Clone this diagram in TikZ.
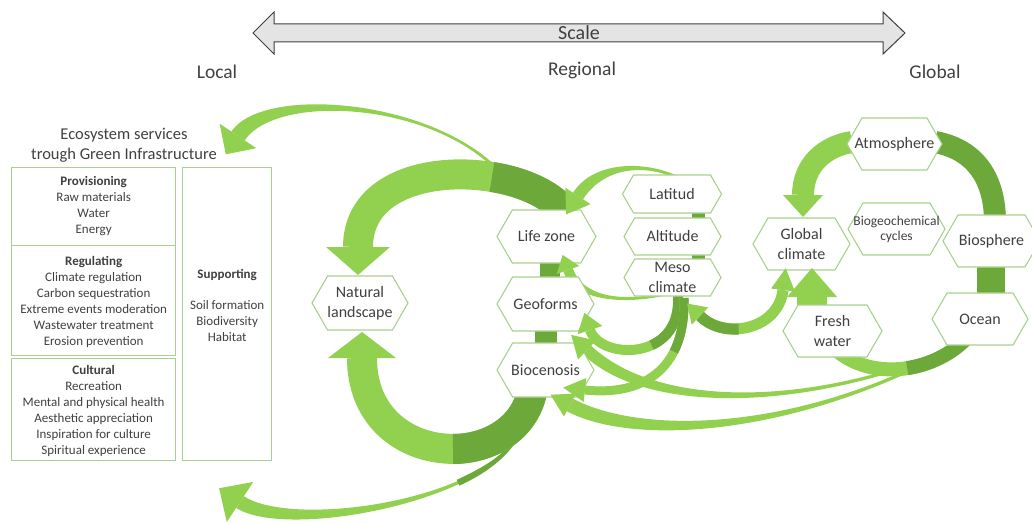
\documentclass[tikz,border=0pt]{standalone}
\usepackage{fontspec}
\setmainfont{Carlito}
\usetikzlibrary{calc,shapes.symbols}

\definecolor{gl}{RGB}{146,208,80}
\definecolor{gd}{RGB}{108,168,58}
\definecolor{hexb}{RGB}{169,209,142}
\definecolor{txt}{RGB}{64,64,64}
\definecolor{scalefill}{RGB}{228,228,228}

% tapered ribbon between P0 and P3 (cubic with controls P1,P2), half-widths at start / end
\newcommand\band[7]{%
  \fill[#1] ($#2!#6!90:#3$) .. controls ($#3!#6!-90:#2$) and ($#4!#7!90:#5$) .. ($#5!#7!-90:#4$)
    -- ($#5!#7!90:#4$) .. controls ($#4!#7!-90:#5$) and ($#3!#6!90:#2$) .. ($#2!#6!-90:#3$) -- cycle;}
% ribbon of constant width
\newcommand\sband[6]{%
  \draw[#1, line width=#6] #2 .. controls #3 and #4 .. #5;}
% triangular arrow head: colour, point behind the base, base centre, half-width, length
\newcommand\ahead[5]{%
  \fill[#1] ($#3!#4!90:#2$) -- ($#3!#5!180:#2$) -- ($#3!#4!-90:#2$) -- cycle;}
% hexagon with its text
\newcommand\hex[5]{%
  \node[hexa, minimum width=#3, minimum height=#4] (#1) at (#2) {};
  \node[hextext] at (#1.center) {#5};}

\begin{document}
\begin{tikzpicture}[x=1pt,y=-1pt,
  hexa/.style={signal, signal to=west and east, signal pointer angle=120,
    draw=hexb, line width=1.1pt, fill=white, inner sep=0pt},
  hextext/.style={text=txt, font=\fontsize{16}{20}\selectfont, align=center, inner sep=0pt},
  svcbox/.style={draw=hexb, line width=1.3pt, anchor=north west, inner sep=0pt},
  svctext/.style={text=txt, font=\fontsize{13}{16}\selectfont, align=center, anchor=north, inner sep=0pt},
  scalelbl/.style={text=txt, font=\fontsize{19.5}{22}\selectfont, inner sep=0pt}]
\useasboundingbox (0,0) rectangle (1032,524);

% scale bar
\draw[draw=txt, fill=scalefill, line width=1pt] (253,33) -- (274,12) -- (274,24) -- (883,24)
  -- (883,12) -- (905,33) -- (883,54) -- (883,42) -- (274,42) -- (274,54) -- cycle;
\node[text=txt, font=\fontsize{20}{24}\selectfont] (scale) at (579,33) {Scale};
\node[scalelbl] (local) at (217,72) {Local};
\node[scalelbl] (regional) at (582,70) {Regional};
\node[scalelbl] (globallbl) at (935,72) {Global};

% ecosystem services panel
\node[text=txt, font=\fontsize{16.5}{19.5}\selectfont, align=center, anchor=north, inner sep=0pt]
  (estitle) at (124,128) {Ecosystem services\\trough Green Infrastructure};
\node[svcbox, minimum width=164pt, minimum height=78pt] (prov) at (11,166.5) {};
\node[svcbox, minimum width=164pt, minimum height=110pt] (reg) at (11,245) {};
\node[svcbox, minimum width=164pt, minimum height=102pt] (cult) at (11,358) {};
\node[svcbox, minimum width=89pt, minimum height=293.5pt] (supp) at (182,166.5) {};
\node[svctext] at ($(prov.north)+(0,9.5)$) {\textbf{Provisioning}\\Raw materials\\Water\\Energy};
\node[svctext] at ($(reg.north)+(0,11)$) {\textbf{Regulating}\\Climate regulation\\Carbon sequestration\\Extreme events moderation\\Wastewater treatment\\Erosion prevention};
\node[svctext] at ($(cult.north)+(0,7)$) {\textbf{Cultural}\\Recreation\\Mental and physical health\\Aesthetic appreciation\\Inspiration for culture\\Spiritual experience};
\node[svctext] at ($(supp.north)+(0,103)$) {\textbf{Supporting}\\[15pt]Soil formation\\Biodiversity\\Habitat};

% thin ribbons leaving the two large loops
\band{gl}{(505,178)}{(440,100)}{(270,88)}{(238,136)}{1.5pt}{8pt}
\band{gl}{(520,430)}{(495,500)}{(290,535)}{(240,502)}{1.5pt}{7pt}
\band{gd}{(520,430)}{(512.5,451)}{(488.8,468.9)}{(458,482.7)}{1.5pt}{3.2pt}

% large loops towards the natural landscape
\sband{gl}{(567,215)}{(530,160)}{(358,152)}{(358,247)}{30pt}
\sband{gd}{(567,215)}{(554,196)}{(525,182)}{(492,177)}{30pt}
\sband{gl}{(532,392)}{(515,475)}{(362,470)}{(362,358)}{30pt}
\sband{gd}{(532,392)}{(524,429)}{(489,449)}{(453,449)}{30pt}

% regional factors
\band{gl}{(682,180)}{(650,162)}{(600,162)}{(578,196)}{1.5pt}{6pt}
\band{gl}{(665,294)}{(620,304)}{(578,298)}{(568,270)}{1.5pt}{5pt}
\sband{gl}{(678,296)}{(682,362)}{(600,360)}{(590,330)}{10pt}
\sband{gd}{(678,296)}{(679.6,322.4)}{(667.4,337.9)}{(651.6,345.1)}{10pt}
\sband{gl}{(684,298)}{(686,372)}{(640,396)}{(585,390)}{9pt}
\sband{gd}{(684,298)}{(684.6,320.2)}{(680.9,337.9)}{(673.9,351.6)}{9pt}
\sband{gl}{(700,316)}{(725,340)}{(778,330)}{(783,290)}{11pt}
\sband{gd}{(700,316)}{(710,326)}{(724.5,330)}{(738.6,329)}{11pt}

% global cycle
\band{gl}{(945,352)}{(800,410)}{(650,410)}{(587,350)}{1.5pt}{6pt}
\band{gl}{(950,350)}{(800,432)}{(640,442)}{(570,405)}{1.5pt}{7pt}
\sband{gl}{(965,340)}{(930,374)}{(870,380)}{(836,350)}{14pt}
\sband{gd}{(965,340)}{(949.3,355.3)}{(928.4,364.9)}{(907.2,368.1)}{14pt}
\sband{gl}{(812,318)}{(812,310)}{(812,303)}{(812,297)}{30pt}
\sband{gl}{(852,142)}{(825,146)}{(803,165)}{(803,195)}{22pt}
\sband{gd}{(935,142)}{(978,150)}{(995,182)}{(995,222)}{22pt}
\sband{gd}{(991,262)}{(991,275)}{(991,285)}{(991,298)}{28pt}

% short links between stacked hexagons
\fill[gd] (540,258) rectangle (560,282);
\fill[gd] (535,326) rectangle (557,348);
\fill[gd] (692,210) rectangle (705,220);
\fill[gd] (692,252) rectangle (705,262);

% hexagons
\hex{natural}{360,303}{96pt}{54pt}{Natural\\landscape}
\hex{lifezone}{546.5,236.5}{99pt}{53pt}{Life zone}
\hex{geoforms}{545.5,304}{97pt}{54pt}{Geoforms}
\hex{biocenosis}{545.5,370}{97pt}{54pt}{Biocenosis}
\hex{latitud}{672,194}{99pt}{38pt}{Latitud}
\hex{altitude}{672.5,236.5}{97pt}{37pt}{Altitude}
\hex{meso}{672.5,277.5}{97pt}{37pt}{Meso\\climate}
\hex{globalcl}{801.5,244}{97pt}{52pt}{Global\\climate}
\node[hexa, minimum width=97pt, minimum height=52pt] (biogeo) at (896.5,229) {};
\node[text=txt, font=\fontsize{13.5}{15}\selectfont, align=center, inner sep=0pt] at (biogeo.center) {Biogeochemical\\cycles};
\hex{atmosphere}{894.5,144}{95pt}{52pt}{Atmosphere}
\hex{biosphere}{991.5,241}{97pt}{52pt}{Biosphere}
\hex{ocean}{980,319}{96pt}{52pt}{Ocean}
\hex{freshwater}{832.5,331}{99pt}{52pt}{Fresh\\water}

% arrow heads
\ahead{gl}{(270,88)}{(238,136)}{22pt}{22pt}
\ahead{gl}{(290,535)}{(240,502)}{24pt}{25pt}
\ahead{gl}{(358,152)}{(358,247)}{32pt}{28pt}
\ahead{gl}{(362,470)}{(362,358)}{34pt}{26pt}
\ahead{gl}{(600,162)}{(578,196)}{15pt}{22pt}
\ahead{gl}{(578,298)}{(568,270)}{12pt}{16pt}
\ahead{gl}{(600,360)}{(590,330)}{13pt}{18pt}
\ahead{gl}{(640,396)}{(585,390)}{12pt}{22pt}
\ahead{gl}{(725,340)}{(700,316)}{12pt}{18pt}
\ahead{gl}{(778,330)}{(783,290)}{12pt}{22pt}
\ahead{gl}{(650,410)}{(587,350)}{13pt}{22pt}
\ahead{gl}{(640,442)}{(570,405)}{13pt}{22pt}
\ahead{gl}{(812,320)}{(812,297)}{25pt}{29pt}
\ahead{gl}{(803,165)}{(803,195)}{20pt}{22pt}
\end{tikzpicture}
\end{document}
